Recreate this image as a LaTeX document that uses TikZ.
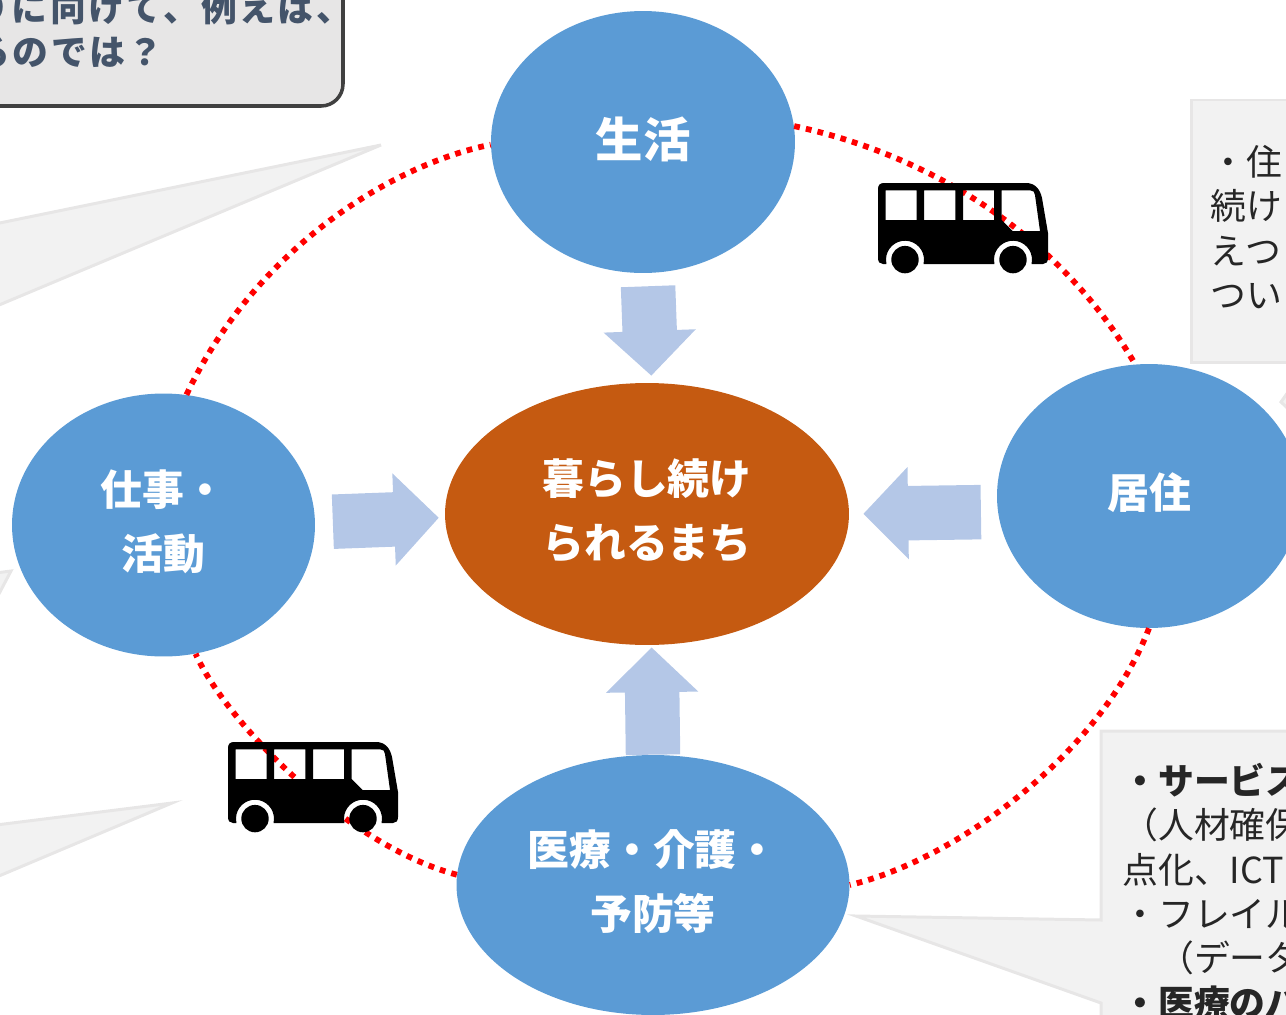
\documentclass[tikz,border=0pt]{standalone}
\usepackage{fontspec}
\setmainfont{Noto Sans CJK JP}
\usepackage{tikz}
\usetikzlibrary{shapes.geometric, arrows.meta}

\definecolor{topicblue}{HTML}{5B9BD5}
\definecolor{goalorange}{HTML}{C55A11}
\definecolor{flowblue}{HTML}{B4C7E7}
\definecolor{notefill}{HTML}{F2F2F2}
\definecolor{noteline}{HTML}{E7E6E6}
\definecolor{slate}{HTML}{44546A}

\tikzset{
  topic/.style={ellipse, fill=topicblue, text=white, inner sep=0pt, align=center,
    text depth=6pt, font=\fontsize{23.8}{36.3}\selectfont\bfseries},
  goal/.style={topic, fill=goalorange},
  flow/.style={draw=flowblue, line width=31pt,
    -{Triangle[length=25.5pt,width=51pt]}},
  linkdots/.style={draw=red, line width=3.3pt, dash pattern=on 3.3pt off 3.5pt},
  notebox/.style={fill=notefill, draw=noteline, line width=1.7pt, line join=miter},
  notetext/.style={inner sep=0pt, align=left, text=black!85,
    font=\fontsize{20.4}{25.3}\selectfont},
  asktext/.style={inner sep=0pt, text=slate,
    font=\fontsize{20.4}{25}\selectfont\addfontfeatures{LetterSpace=7}\bfseries},
  bus/.pic={
    % body with the wheel arches and the windows left open
    \fill[black, even odd rule] (6,0) -- (148,0)
      .. controls (157,0) and (162,6) .. (164,15) -- (170,50) -- (170,75)
      .. controls (170,79) and (168,81) .. (165,81)
      -- (153.5,81) arc[start angle=13, end angle=-193, radius=19]
      -- (45.5,81) arc[start angle=13, end angle=-193, radius=19]
      -- (5,81) .. controls (2,81) and (0,79) .. (0,75) -- (0,6)
      .. controls (0,2) and (2,0) .. (6,0) -- cycle
      (7.7,7.3) rectangle (38.7,37)
      (46,7.3) rectangle (77.3,37)
      (85,7.3) rectangle (116,37)
      (123.7,7.3) -- (152,7.3) .. controls (155,7.3) and (157,9) .. (157,12)
      -- (162,48) -- (134.7,48) -- (123.7,37) -- cycle;
    % wheels
    \fill[black] (27,76.6) circle(13.7);
    \fill[black] (135,76.6) circle(13.7);
  }
}

\begin{document}
\begin{tikzpicture}[x=0.02cm, y=-0.02cm]
    \useasboundingbox (0,0) rectangle (1286,1015);
    \clip (0,0) rectangle (1286,1015);

    % Draw the pointers and boxes of the notes, cut by the page edge
    \filldraw[notebox] (381,145) -- (-20,227) -- (-20,313) -- cycle;
    \filldraw[notebox] (11,571) -- (-20,575) -- (-20,630) -- cycle;
    \filldraw[notebox] (172,803) -- (-20,827) -- (-20,884) -- cycle;
    \filldraw[notebox] (1281,402) -- (1300,375) -- (1300,420) -- cycle;
    \filldraw[notebox] (1191,100) rectangle (1310,362);
    \filldraw[notebox] (1101,731) -- (1310,731) -- (1310,1040) -- (1101,1040)
        -- (1101,1003) -- (856,916) -- (1101,920) -- cycle;
    \filldraw[fill=noteline, draw=black!75, line width=2pt, rounded corners=12.5pt]
        (-40,-40) rectangle (343,106);

    % Draw the topics around the goal
    \node[topic, minimum width=6.08cm, minimum height=5.24cm, font=\fontsize{27}{36}\selectfont\bfseries]
        (seikatsu) at (643,142) {生活};
    \node[topic, minimum width=6.08cm, minimum height=5.28cm] (kyoju) at (1149,496) {居住};
    \node[topic, minimum width=6.06cm, minimum height=5.26cm] (shigoto) at (163.5,525) {仕事・\\活動};
    \node[topic, minimum width=7.86cm, minimum height=5.2cm] (iryo) at (653,885) {医療・介護・\\予防等};
    \node[goal, minimum width=8.08cm, minimum height=5.24cm] (kurashi) at (647,514) {暮らし続け\\られるまち};

    % Draw the dotted ring between the topics
    \draw[linkdots] (seikatsu.6) .. controls (930,155) and (1060,235) .. (kyoju.96);
    \draw[linkdots] (kyoju.270) .. controls (1100,755) and (955,860) .. (iryo.0);
    \draw[linkdots] (iryo.177) .. controls (345,845) and (225,720) .. (shigoto.284);
    \draw[linkdots] (shigoto.80) .. controls (255,250) and (390,165) .. (seikatsu.181);

    % Draw the buses on top of the ring
    \pic at (878,183) {bus};
    \pic at (228,742) {bus};

    % Draw the block arrows towards the goal
    \draw[flow, shorten <=7.4pt, shorten >=4pt] (seikatsu.-88) -- (kurashi.88);
    \draw[flow, shorten <=9.6pt, shorten >=8pt] (kyoju.186) -- (kurashi.0);
    \draw[flow, shorten <=10pt, shorten >=3.4pt] (shigoto.1) -- (kurashi.181);
    \draw[flow, shorten >=1.2pt] (iryo.90) -- (kurashi.-88);

    % Label the notes
    \node[asktext, anchor=west] (asuline) at (-27,8) {りに向けて、例えば、};
    \node[asktext, anchor=west] (asunext) at (-26,53) {るのでは？};
    \node[notetext, anchor=north west] (kyojunote) at (1210,145)
        {・住\\続け\\えつ\\つい};
    \node[notetext, anchor=north west] (iryonote) at (1122,762.5)
        {{\bfseries ・サービス}\\（人材確保\\点化、ICT\\・フレイル\\　（データ\\{\bfseries ・医療のバ}};
\end{tikzpicture}
\end{document}
